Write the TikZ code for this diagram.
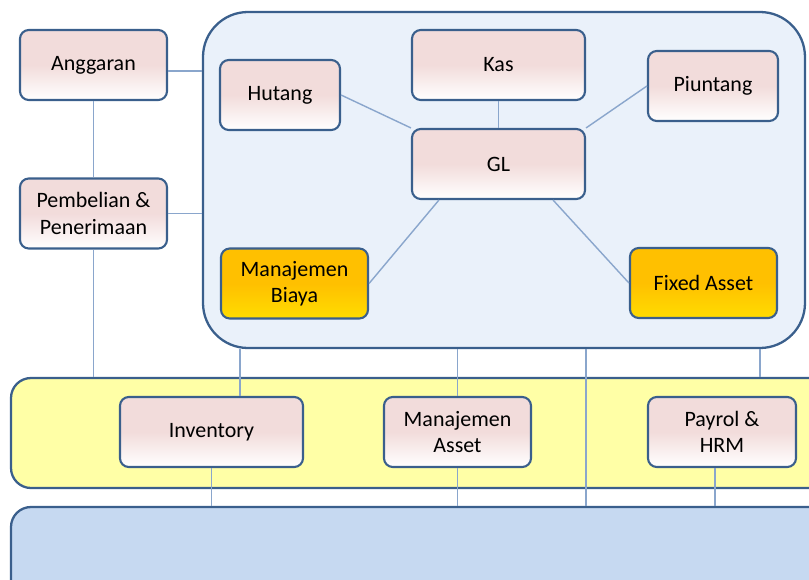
\documentclass[tikz,border=0pt]{standalone}
\usepackage{fontspec}
\setmainfont{Carlito}
\usepackage{tikz}
\definecolor{frameblue}{HTML}{3A5F8C}
\definecolor{boxpink}{HTML}{F2DCDB}
\definecolor{boxgold}{HTML}{FFC000}
\definecolor{coreblue}{HTML}{EAF1FA}
\definecolor{bandyellow}{HTML}{FFFFA6}
\definecolor{dbblue}{HTML}{C6D9F1}
\definecolor{linkblue}{HTML}{8AA6CC}

\begin{document}
\begin{tikzpicture}[auto]
   \useasboundingbox (0,0) rectangle (16.18,-11.6);
   \begin{scope}[every node/.style={draw=frameblue,line width=1.3pt,inner sep=0pt}]
    \node[fill=coreblue,rounded corners=0.9cm,minimum width=12.04cm,minimum height=6.72cm] (core) at (10.08,-3.60) {};
    \node[fill=bandyellow,rounded corners=0.4cm,minimum width=16.4cm,minimum height=2.2cm] (erp) at (8.42,-8.66) {};
    \node[fill=dbblue,rounded corners=0.4cm,minimum width=16.4cm,minimum height=2.1cm] (db) at (8.42,-11.19) {};
   \end{scope}
   \begin{scope}[every node/.style={draw=frameblue,line width=1.2pt,rounded corners=5pt,align=center,
       minimum height=1.4cm,top color=boxpink,bottom color=white,middle color=boxpink,
       font=\fontsize{12.5}{15}\selectfont}]
    \node[minimum width=2.94cm] (anggaran) at (1.87,-1.30) {Anggaran};
    \node[minimum width=2.94cm] (pembelian) at (1.87,-4.27) {Pembelian \&\\Penerimaan};
    \node[minimum width=2.40cm] (hutang) at (5.60,-1.90) {Hutang};
    \node[minimum width=3.46cm] (kas) at (9.97,-1.30) {Kas};
    \node[minimum width=3.46cm] (gl) at (9.97,-3.28) {GL};
    \node[minimum width=2.60cm] (piutang) at (14.26,-1.72) {Piuntang};
    \node[minimum width=2.94cm,top color=boxgold,bottom color=boxgold!55!yellow,middle color=boxgold] (biaya) at (5.89,-5.67) {Manajemen\\Biaya};
    \node[minimum width=2.94cm,top color=boxgold,bottom color=boxgold!55!yellow,middle color=boxgold] (fixed) at (14.07,-5.66) {Fixed Asset};
    \node[minimum width=3.66cm] (inventory) at (4.23,-8.64) {Inventory};
    \node[minimum width=2.94cm] (aset) at (9.15,-8.64) {Manajemen\\Asset};
    \node[minimum width=2.96cm] (payrol) at (14.44,-8.64) {Payrol \&\\HRM};
   \end{scope}
   \coordinate (a1) at ([yshift=-1.2mm]anggaran.east);
   \coordinate (g1) at ([xshift=5.6mm]gl.south west);
   \coordinate (g2) at ([xshift=-6.6mm]gl.south east);
   \coordinate (i1) at ([xshift=5.7mm]inventory.north);
   \coordinate (p1) at ([xshift=-1.4mm]payrol.south);
   \coordinate (c1) at (11.72,0);
   \coordinate (c2) at (15.20,0);
   \begin{scope}[every edge/.style={draw=linkblue,line width=0.8pt}]
    \draw  (anggaran) edge (pembelian);
    \draw  (a1) edge (a1 -| core.west);
    \draw  (pembelian.east) edge (pembelian.east -| core.west);
    \draw  (pembelian) edge (pembelian |- erp.north);
    \draw  (hutang.east) edge (gl.north west);
    \draw  (kas) edge (gl);
    \draw  (piutang.west) edge (gl.north east);
    \draw  (g1) edge (biaya.east);
    \draw  (g2) edge (fixed.west);
    \draw  (i1 |- core.south) edge (i1);
    \draw  (aset |- core.south) edge (aset);
    \draw  (c1 |- core.south) edge (c1 |- db.north);
    \draw  (c2 |- core.south) edge (c2 |- erp.north);
    \draw  (inventory) edge (inventory |- db.north);
    \draw  (aset) edge (aset |- db.north);
    \draw  (p1) edge (p1 |- db.north);
   \end{scope}
\end{tikzpicture}
\end{document}
